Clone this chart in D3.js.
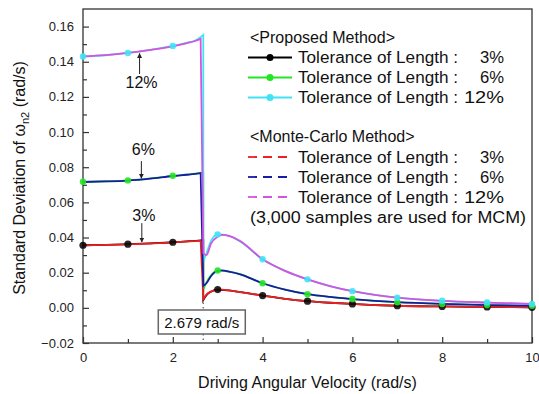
<!DOCTYPE html>
<html lang="en">
<head>
    <meta charset="UTF-8">
    <title>Standard Deviation vs Driving Angular Velocity</title>
    <style>
        body {
            margin: 0;
            padding: 0;
            background-color: #ffffff;
        }
        svg text {
            font-family: "Liberation Sans", Arial, sans-serif;
            fill: #111;
        }
        .tick-label {
            font-size: 13px;
        }
        .axis-title {
            font-size: 16px;
            text-anchor: middle;
        }
        .legend-text {
            font-size: 16px;
        }
    </style>
</head>
<body>
    <svg width="539" height="394"></svg>

    <script src="https://d3js.org/d3.v7.min.js"></script>
    <script>
        // x positions of the proposed-method curves (the jump at 2.679 is listed twice)
        const xProposed = [0, 0.5, 1, 1.5, 2, 2.3, 2.5, 2.679, 2.679, 2.75, 2.85, 3, 3.25, 3.5, 4, 4.5, 5, 5.5, 6, 6.5, 7, 8, 9, 10];
        const proposed3  = [0.0356, 0.0358, 0.0362, 0.0367, 0.0373, 0.0378, 0.0381, 0.0385, 0.0045, 0.0072, 0.0092, 0.0104, 0.0099, 0.0090, 0.0070, 0.0051, 0.0038, 0.0029, 0.0022, 0.0016, 0.0012, 0.0008, 0.0005, 0.0003];
        const proposed6  = [0.0717, 0.0720, 0.0725, 0.0736, 0.0751, 0.0758, 0.0763, 0.0771, 0.0105, 0.0145, 0.0185, 0.0212, 0.0206, 0.0192, 0.0140, 0.0104, 0.0078, 0.0062, 0.0050, 0.0040, 0.0032, 0.0022, 0.0016, 0.0012];
        const proposed12 = [0.1430, 0.1437, 0.1450, 0.1468, 0.1490, 0.1507, 0.1521, 0.1553, 0.0265, 0.0310, 0.0380, 0.0418, 0.0410, 0.0378, 0.0276, 0.0210, 0.0162, 0.0124, 0.0095, 0.0074, 0.0058, 0.0040, 0.0030, 0.0022];

        // Monte-Carlo curves
        const xMcm  = [0, 0.5, 1, 1.5, 2, 2.3, 2.5, 2.62, 2.68, 2.75, 2.85, 3, 3.1, 3.25, 3.5, 4, 4.5, 5, 5.5, 6, 6.5, 7, 8, 9, 10];
        const mcm3  = [0.0355, 0.0358, 0.0361, 0.0366, 0.0372, 0.0377, 0.0380, 0.0382, 0.0050, 0.0075, 0.0093, 0.0103, 0.0104, 0.0099, 0.0090, 0.0069, 0.0051, 0.0038, 0.0029, 0.0022, 0.0016, 0.0012, 0.0008, 0.0005, 0.0003];
        const mcm6  = [0.0716, 0.0719, 0.0724, 0.0735, 0.0750, 0.0757, 0.0762, 0.0766, 0.0125, 0.0140, 0.0180, 0.0210, 0.0213, 0.0206, 0.0191, 0.0140, 0.0104, 0.0078, 0.0062, 0.0050, 0.0040, 0.0032, 0.0022, 0.0016, 0.0012];
        const mcm12 = [0.1431, 0.1438, 0.1450, 0.1467, 0.1488, 0.1505, 0.1518, 0.1530, 0.0310, 0.0300, 0.0365, 0.0405, 0.0415, 0.0410, 0.0380, 0.0276, 0.0210, 0.0162, 0.0124, 0.0095, 0.0074, 0.0058, 0.0040, 0.0030, 0.0022];

        const tolerances = ["3%", "6%", "12%"];
        const xTicks = [0, 2, 4, 6, 8, 10];
        const yTicks = [-0.02, 0.00, 0.02, 0.04, 0.06, 0.08, 0.10, 0.12, 0.14, 0.16];
        const criticalSpeed = 2.679;

        // arrow notes: x, arrow tip, arrow tail, label centre (data units)
        const notes = [
            {label: "12%", x: 1.26, tip: 0.1447, tail: 0.1330, text: 0.1285},
            {label: "6%",  x: 1.30, tip: 0.0737, tail: 0.0835, text: 0.0905},
            {label: "3%",  x: 1.31, tip: 0.0374, tail: 0.0482, text: 0.0528}
        ];

        const propColors = ["#000000", "#22e622", "#3fe3f5"];
        const mcmColors  = ["#ee2020", "#1a1aa8", "#d653df"];
        const markerR = [3.6, 3.2, 3.2];

        const svg = d3.select("svg");
        const margin = {top: 9, right: 7, bottom: 51, left: 83};
        const W = +svg.attr("width"), H = +svg.attr("height");

        const x = d3.scaleLinear().domain([0, 10]).range([margin.left, W - margin.right]);
        const y = d3.scaleLinear().domain([-0.02, 0.17]).range([H - margin.bottom, margin.top]);

        // frame
        svg.append("rect")
            .attr("x", x(0)).attr("y", y(0.17))
            .attr("width", x(10) - x(0)).attr("height", y(-0.02) - y(0.17))
            .attr("fill", "none").attr("stroke", "#333").attr("stroke-width", 1.3);

        // axes with inward ticks
        const xAxis = svg.append("g")
            .attr("transform", `translate(0,${y(-0.02)})`)
            .call(d3.axisBottom(x).tickValues(d3.range(0, 11, 1)).tickSize(-6).tickFormat(""));
        xAxis.selectAll(".tick line").attr("y2", (d) => d % 2 ? -4 : -6).attr("stroke", "#333").attr("stroke-width", 1.2);
        xAxis.select(".domain").remove();
        xAxis.selectAll(".tick").filter(d => xTicks.includes(d)).append("text")
            .attr("class", "tick-label").attr("y", 19).attr("text-anchor", "middle")
            .style("fill", "#222").text(d => d);

        const yAxis = svg.append("g")
            .attr("transform", `translate(${x(0)},0)`)
            .call(d3.axisLeft(y).tickValues(d3.range(-0.02, 0.1651, 0.01)).tickSize(-6).tickFormat(""));
        yAxis.select(".domain").remove();
        yAxis.selectAll(".tick line")
            .attr("x2", (d, i) => i % 2 ? 4 : 6).attr("stroke", "#333").attr("stroke-width", 1.2);
        svg.append("g").selectAll("text").data(yTicks).join("text")
            .attr("class", "tick-label").attr("x", x(0) - 9).attr("y", d => y(d) + 4.5)
            .attr("text-anchor", "end").style("fill", "#222")
            .text(d => d3.format(".2f")(d));

        // axis titles
        svg.append("text").attr("class", "axis-title")
            .attr("x", (x(0) + x(10)) / 2).attr("y", 388)
            .text("Driving Angular Velocity (rad/s)");
        const yt = svg.append("text").attr("class", "axis-title")
            .attr("transform", `translate(25,${(y(-0.02) + y(0.17)) / 2 + 2}) rotate(-90)`);
        yt.append("tspan").text("Standard Deviation of \u03c9");
        yt.append("tspan").attr("font-size", "11px").attr("dy", 4).text("n2");
        yt.append("tspan").attr("dy", -4).text(" (rad/s)");

        // split a series where it jumps down, draw each part smooth and join them
        function smoothPath(xs, vs) {
            const pts = xs.map((d, i) => [d, vs[i]]);
            let k = pts.findIndex((p, i) => i > 0 && pts[i - 1][1] - p[1] > 0.02);
            const line = d3.line().x(d => x(d[0])).y(d => y(d[1])).curve(d3.curveMonotoneX);
            return line(pts.slice(0, k)) + line(pts.slice(k)).replace(/^M/, "L");
        }

        const proposed = [proposed3, proposed6, proposed12];
        const mcm = [mcm3, mcm6, mcm12];

        const plot = svg.append("g");
        // dotted marker of the critical speed
        plot.append("line")
            .attr("x1", x(criticalSpeed)).attr("x2", x(criticalSpeed))
            .attr("y1", y(0.003)).attr("y2", y(-0.02))
            .attr("stroke", "#777").attr("stroke-width", 1.5).attr("stroke-dasharray", "1.5,3");

        proposed.forEach((vs, i) => {
            plot.append("path").attr("d", smoothPath(xProposed, vs))
                .attr("fill", "none").attr("stroke", propColors[i]).attr("stroke-width", 1.8);
        });
        mcm.forEach((vs, i) => {
            plot.append("path").attr("d", smoothPath(xMcm, vs))
                .attr("fill", "none").attr("stroke", mcmColors[i]).attr("stroke-width", 1.8);
        });
        proposed.forEach((vs, i) => {
            const pts = xProposed.map((d, j) => [d, vs[j]]).filter(p => Number.isInteger(p[0]));
            plot.append("g").selectAll("circle").data(pts).join("circle")
                .attr("cx", d => x(d[0])).attr("cy", d => y(d[1])).attr("r", markerR[i])
                .attr("fill", propColors[i]).attr("opacity", i === 0 ? 0.85 : 0.9);
        });

        // annotation box for the critical speed
        const bx = x(criticalSpeed);
        svg.append("rect").attr("x", bx - 45).attr("y", 310).attr("width", 87).attr("height", 24)
            .attr("fill", "#fff").attr("stroke", "#666").attr("stroke-width", 1.5);
        svg.append("text").attr("x", bx - 1.5).attr("y", 327.5).attr("text-anchor", "middle")
            .style("font-size", "15px").text(criticalSpeed + " rad/s");

        // arrows
        svg.append("defs").append("marker")
            .attr("id", "arrow").attr("viewBox", "0 0 10 10").attr("refX", 9).attr("refY", 5)
            .attr("markerWidth", 5).attr("markerHeight", 6).attr("orient", "auto")
            .append("path").attr("d", "M0,0L10,5L0,10z").attr("fill", "#222");
        notes.forEach(n => {
            svg.append("line")
                .attr("x1", x(n.x)).attr("x2", x(n.x)).attr("y1", y(n.tail)).attr("y2", y(n.tip))
                .attr("stroke", "#222").attr("stroke-width", 1).attr("marker-end", "url(#arrow)");
            svg.append("text").attr("x", x(n.x) + 2).attr("y", y(n.text) + 6)
                .attr("text-anchor", "middle").style("font-size", "16px").text(n.label);
        });

        // legend
        const lg = svg.append("g").attr("class", "legend-text");
        lg.append("text").attr("x", 250).attr("y", 43).text("<Proposed Method>");
        const rowText = (cy, t) => {
            lg.append("text").attr("x", 298).attr("y", cy + 5.5)
                .attr("textLength", 160).attr("lengthAdjust", "spacingAndGlyphs")
                .text("Tolerance of Length :");
            lg.append("text").attr("x", 504).attr("y", cy + 5.5).attr("text-anchor", "end")
                .attr("textLength", t.length === 2 ? 24 : 40).attr("lengthAdjust", "spacingAndGlyphs")
                .text(t);
        };
        tolerances.forEach((t, i) => {
            const cy = 57.5 + i * 20;
            lg.append("line").attr("x1", 248).attr("x2", 292).attr("y1", cy).attr("y2", cy)
                .attr("stroke", propColors[i]).attr("stroke-width", 1.8);
            lg.append("circle").attr("cx", 270).attr("cy", cy).attr("r", 3.5).attr("fill", propColors[i]);
            rowText(cy, t);
        });
        lg.append("text").attr("x", 250).attr("y", 142).text("<Monte-Carlo Method>");
        tolerances.forEach((t, i) => {
            const cy = 157 + i * 20;
            lg.append("line").attr("x1", 248).attr("x2", 292).attr("y1", cy).attr("y2", cy)
                .attr("stroke", mcmColors[i]).attr("stroke-width", 1.8).attr("stroke-dasharray", "9,6");
            rowText(cy, t);
        });
        lg.append("text").attr("x", 250).attr("y", 223)
            .attr("textLength", 276).attr("lengthAdjust", "spacingAndGlyphs")
            .text("(3,000 samples are used for MCM)");
    </script>
</body>
</html>
